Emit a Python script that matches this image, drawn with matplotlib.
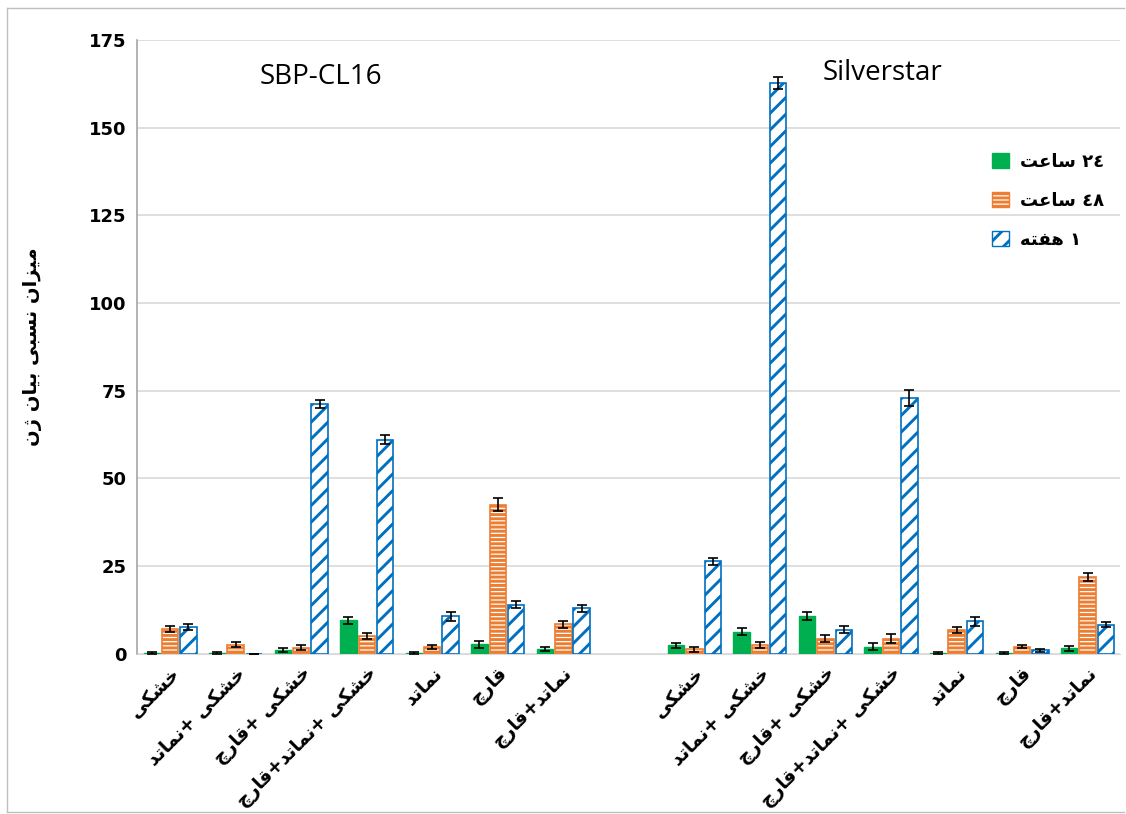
import numpy as np
import matplotlib
matplotlib.use("Agg")
import matplotlib.pyplot as plt
from matplotlib.patches import Patch
from matplotlib.lines import Line2D

# Data
categories = ["خشکی", "خشکی +نماتد", "خشکی +قارچ", "خشکی +نماتد+قارچ",
              "نماتد", "قارچ", "نماتد+قارچ"]
cultivars = ["SBP-CL16", "Silverstar"]
series_names = ["٢٤ ساعت", "٤٨ ساعت", "١ هفته"]

sbp_24h = [0.3, 0.3, 1.1, 9.5, 0.3, 2.7, 1.3]
sbp_48h = [7.0, 2.6, 1.7, 5.0, 1.8, 42.5, 8.4]
sbp_1w = [7.6, 0.0, 71.2, 61.0, 10.6, 14.0, 12.9]
sbp_24h_err = [0.3, 0.3, 0.5, 1.0, 0.3, 1.0, 0.5]
sbp_48h_err = [0.8, 0.8, 0.7, 0.8, 0.6, 1.8, 1.0]
sbp_1w_err = [0.8, 0.0, 1.2, 1.3, 1.3, 1.0, 0.9]

sil_24h = [2.4, 6.3, 10.7, 1.9, 0.3, 0.3, 1.5]
sil_48h = [1.2, 2.5, 4.3, 4.3, 6.8, 2.0, 21.8]
sil_1w = [26.3, 162.7, 6.8, 73.0, 9.2, 0.9, 8.3]
sil_24h_err = [0.7, 1.0, 1.2, 1.0, 0.3, 0.3, 0.8]
sil_48h_err = [0.6, 0.8, 1.0, 1.2, 0.9, 0.4, 1.1]
sil_1w_err = [1.0, 1.8, 1.0, 2.3, 1.2, 0.4, 0.6]

yticks = [0, 25, 50, 75, 100, 125, 150, 175]
ylabel = "میزان نسبی بیان ژن"


# minimal Arabic/Persian shaping (matplotlib has no complex text layout)
FORMS = {
    # letter: (isolated, final, initial, medial)
    "ا": ("\uFE8D", "\uFE8E", None, None),
    "ب": ("\uFE8F", "\uFE90", "\uFE91", "\uFE92"),
    "ت": ("\uFE95", "\uFE96", "\uFE97", "\uFE98"),
    "ج": ("\uFE9D", "\uFE9E", "\uFE9F", "\uFEA0"),
    "خ": ("\uFEA5", "\uFEA6", "\uFEA7", "\uFEA8"),
    "د": ("\uFEA9", "\uFEAA", None, None),
    "ر": ("\uFEAD", "\uFEAE", None, None),
    "ز": ("\uFEAF", "\uFEB0", None, None),
    "ژ": ("\uFB8A", "\uFB8B", None, None),
    "س": ("\uFEB1", "\uFEB2", "\uFEB3", "\uFEB4"),
    "ش": ("\uFEB5", "\uFEB6", "\uFEB7", "\uFEB8"),
    "ع": ("\uFEC9", "\uFECA", "\uFECB", "\uFECC"),
    "ف": ("\uFED1", "\uFED2", "\uFED3", "\uFED4"),
    "ق": ("\uFED5", "\uFED6", "\uFED7", "\uFED8"),
    "ک": ("\uFB8E", "\uFB8F", "\uFB90", "\uFB91"),
    "ل": ("\uFEDD", "\uFEDE", "\uFEDF", "\uFEE0"),
    "م": ("\uFEE1", "\uFEE2", "\uFEE3", "\uFEE4"),
    "ن": ("\uFEE5", "\uFEE6", "\uFEE7", "\uFEE8"),
    "ه": ("\uFEE9", "\uFEEA", "\uFEEB", "\uFEEC"),
    "ی": ("\uFBFC", "\uFBFD", "\uFBFE", "\uFBFF"),
}


def joins_next(c):
    return c in FORMS and FORMS[c][2] is not None


def shape(text):
    out = []
    for i, c in enumerate(text):
        if c not in FORMS:
            out.append(c)
            continue
        prev = text[i - 1] if i > 0 else ""
        nxt = text[i + 1] if i + 1 < len(text) else ""
        left = joins_next(prev)
        right = joins_next(c) and nxt in FORMS
        iso, fin, ini, med = FORMS[c]
        if left and right:
            out.append(med)
        elif left:
            out.append(fin)
        elif right:
            out.append(ini)
        else:
            out.append(iso)
    # visual order: reverse, but keep digit runs left-to-right
    vis = "".join(out)[::-1]
    res, run = "", ""
    for c in vis:
        if c.isdigit():
            run += c
        else:
            res += run[::-1] + c
            run = ""
    return res + run[::-1]


plt.rcParams["font.family"] = ["DejaVu Sans"]
plt.rcParams["hatch.linewidth"] = 2.1

green = "#00B050"
orange = "#ED7D31"
blue = "#0070C0"

fig = plt.figure(figsize=(11.26, 8.14), dpi=100)
ax = fig.add_axes([0.122, 0.197, 0.873, 0.754])

x1 = np.arange(7)
x2 = np.arange(8, 15)
w = 0.25
off = 0.28
errkw = dict(ecolor="black", elinewidth=1.2, capsize=3.5, capthick=1.2)

for xs, v24, v48, v1w, e24, e48, e1w in [
    (x1, sbp_24h, sbp_48h, sbp_1w, sbp_24h_err, sbp_48h_err, sbp_1w_err),
    (x2, sil_24h, sil_48h, sil_1w, sil_24h_err, sil_48h_err, sil_1w_err),
]:
    ax.bar(xs - off, v24, w, yerr=e24, color=green, edgecolor=green,
           error_kw=errkw, zorder=3)
    ax.bar(xs, v48, w, yerr=e48, color="white", edgecolor=orange,
           hatch="----", linewidth=1.2, error_kw=errkw, zorder=3)
    ax.bar(xs + off, v1w, w, yerr=e1w, color="white", edgecolor=blue,
           hatch="//", linewidth=1.2, error_kw=errkw, zorder=3)

ax.set_xlim(-0.5, 14.5)
ax.set_ylim(0, 175)
ax.set_yticks(yticks)
ax.set_yticklabels([str(t) for t in yticks], fontsize=13, fontweight="bold")
ax.yaxis.grid(True, color="#D9D9D9", linewidth=1.2, zorder=0)
ax.set_axisbelow(True)
for s in ["top", "right"]:
    ax.spines[s].set_visible(False)
ax.spines["left"].set_color("#A6A6A6")
ax.spines["bottom"].set_color("#D9D9D9")
ax.spines["left"].set_linewidth(1.2)
ax.tick_params(axis="y", length=0, pad=8)
ax.tick_params(axis="x", length=0, pad=7)

ax.set_xticks(list(x1) + list(x2))
ax.set_xticklabels([shape(c) for c in categories] * 2, rotation=45,
                   ha="right", va="top", rotation_mode="anchor",
                   fontsize=13.5, fontweight="bold")

ax.set_ylabel(shape(ylabel), fontsize=14, fontweight="bold", labelpad=34)

ax.text(2.3, 164.5, cultivars[0], fontsize=20, ha="center", va="center",
        family="Open Sans")
ax.text(10.87, 165.5, cultivars[1], fontsize=20, ha="center", va="center",
        family="Open Sans")

handles = [
    Patch(facecolor=green, edgecolor=green),
    Patch(facecolor="white", edgecolor=orange, hatch="----"),
    Patch(facecolor="white", edgecolor=blue, hatch="//"),
]
leg = fig.legend(handles, [shape(s) for s in series_names],
                 loc="upper left", bbox_to_anchor=(0.867, 0.832),
                 frameon=False, markerfirst=True, handlelength=0.9,
                 handleheight=0.9, handletextpad=0.6, labelspacing=1.15,
                 prop=dict(size=13, weight="bold"))

# chart frame (left, top, bottom)
frame = "#BFBFBF"
fig.add_artist(Line2D([0.006, 0.006], [0.002, 0.99], color=frame, lw=1))
fig.add_artist(Line2D([0.006, 0.998], [0.99, 0.99], color=frame, lw=1))
fig.add_artist(Line2D([0.006, 0.998], [0.002, 0.002], color=frame, lw=1))

fig.savefig("out.png", dpi=100)
